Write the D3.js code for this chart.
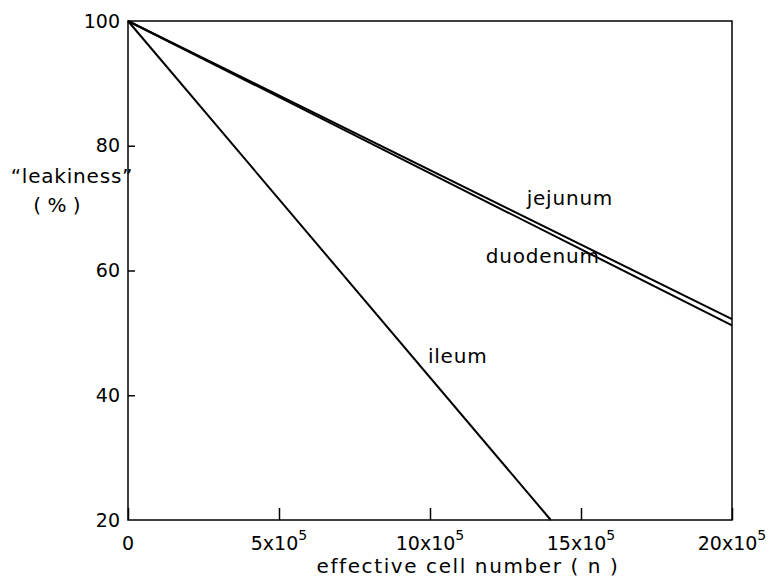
<!DOCTYPE html>
<html>
<head>
<meta charset="utf-8">
<script src="https://cdn.jsdelivr.net/npm/d3@7.9.0/dist/d3.min.js"></script>
<style>
  body { margin: 0; background: #fff; }
  svg { font-family: "DejaVu Sans", sans-serif; }
</style>
</head>
<body>
<div id="chart"></div>
<script>
// straight lines from n = 0 to their end point
const series = ['jejunum', 'duodenum', 'ileum'];
const startN = [0, 0, 0];
const startLeak = [100, 100, 100];
const endN = [20e5, 20e5, 14e5];
const endLeak = [52.2, 51.2, 20];

const xTicks = [0, 5e5, 10e5, 15e5, 20e5];
const xTickMant = ['0', '5x10', '10x10', '15x10', '20x10'];
const yTicks = [20, 40, 60, 80, 100];

const labels = [
  { name: 'jejunum', n: 13.2e5, v: 70.5 },
  { name: 'duodenum', n: 11.85e5, v: 61.2 },
  { name: 'ileum', n: 9.93e5, v: 45.2 },
];

const width = 772, height = 579;
const margin = { top: 21, right: 40, bottom: 59, left: 128 };

const svg = d3.select('#chart').append('svg')
  .attr('width', width)
  .attr('height', height);

const x = d3.scaleLinear().domain([0, 20e5]).range([margin.left, width - margin.right]);
const y = d3.scaleLinear().domain([20, 100]).range([height - margin.bottom, margin.top]);

// frame
svg.append('rect')
  .attr('x', x(0)).attr('y', y(100))
  .attr('width', x(20e5) - x(0)).attr('height', y(20) - y(100))
  .attr('fill', 'none').attr('stroke', '#000').attr('stroke-width', 1.5);

// x axis ticks (inward)
const xAxis = svg.append('g').attr('transform', `translate(0,${y(20)})`)
  .call(d3.axisBottom(x).tickValues(xTicks).tickSize(-12).tickFormat(''));
xAxis.select('.domain').remove();
xAxis.selectAll('line').attr('stroke-width', 1.5);

const xl = svg.append('g');
xTicks.forEach((t, i) => {
  const txt = xl.append('text')
    .attr('x', x(t)).attr('y', 550)
    .attr('text-anchor', 'middle')
    .attr('font-size', 19);
  txt.append('tspan').text(xTickMant[i]);
  if (i > 0) {
    txt.append('tspan').attr('dy', -10).attr('font-size', 14).text('5');
  }
});

// y axis ticks (inward)
const yAxis = svg.append('g').attr('transform', `translate(${x(0)},0)`)
  .call(d3.axisLeft(y).tickValues(yTicks).tickSize(-7).tickPadding(8));
yAxis.select('.domain').remove();
yAxis.selectAll('line').attr('stroke-width', 1.5);
yAxis.selectAll('text').attr('font-size', 19).attr('font-family', '"DejaVu Sans", sans-serif')
  .attr('fill', '#000');
yAxis.selectAll('.tick').filter((d) => d === 100 || d === 20).select('line').remove();

// lines
const line = d3.line().x((d) => x(d[0])).y((d) => y(d[1]));
series.forEach((s, i) => {
  svg.append('path')
    .datum([[startN[i], startLeak[i]], [endN[i], endLeak[i]]])
    .attr('d', line)
    .attr('fill', 'none')
    .attr('stroke', '#000')
    .attr('stroke-width', 2);
});

// series labels
svg.append('g').selectAll('text').data(labels).join('text')
  .attr('x', (d) => x(d.n)).attr('y', (d) => y(d.v))
  .attr('font-size', 20)
  .attr('letter-spacing', 0.8)
  .text((d) => d.name);

// axis titles
svg.append('text')
  .attr('x', 468).attr('y', 573)
  .attr('text-anchor', 'middle').attr('font-size', 20)
  .attr('letter-spacing', 1.6)
  .text('effective cell number ( n )');

svg.append('text')
  .attr('x', 72).attr('y', 183)
  .attr('text-anchor', 'middle').attr('font-size', 20)
  .attr('letter-spacing', 0.8)
  .text('\u201cleakiness\u201d');
svg.append('text')
  .attr('x', 57).attr('y', 212)
  .attr('text-anchor', 'middle').attr('font-size', 20)
  .text('( % )');
</script>
</body>
</html>
